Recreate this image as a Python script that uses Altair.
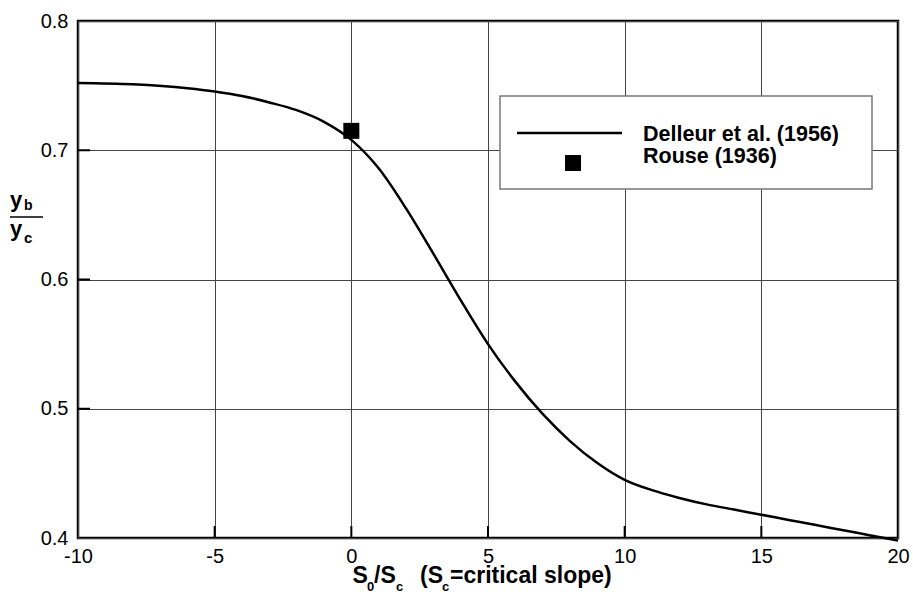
import altair as alt
import pandas as pd

# Delleur et al. (1956) curve
curve_x = [-10, -8, -6, -5, -4, -3, -2, -1, 0, 1, 2, 3, 4, 5, 6, 7, 8, 9, 10,
           11, 12, 13, 14, 15, 16, 17, 18, 19, 20]
curve_y = [0.752, 0.751, 0.748, 0.7455, 0.742, 0.737, 0.731, 0.722, 0.708, 0.686,
           0.655, 0.620, 0.584, 0.550, 0.521, 0.496, 0.475, 0.458, 0.445,
           0.437, 0.431, 0.426, 0.422, 0.418, 0.414, 0.410, 0.406, 0.402, 0.398]
# Rouse (1936) point
rouse_x = [0]
rouse_y = [0.715]

x_ticks = [-10, -5, 0, 5, 10, 15, 20]
y_ticks = [0.4, 0.5, 0.6, 0.7, 0.8]
x_inner_ticks = [-5, 0, 5, 10, 15]
y_inner_ticks = [0.5, 0.6, 0.7]
legend_labels = ["Delleur et al. (1956)", "Rouse (1936)"]

W, H = 820, 517
FONT = "Liberation Sans"

curve_df = pd.DataFrame({"x": curve_x, "y": curve_y})
rouse_df = pd.DataFrame({"x": rouse_x, "y": rouse_y})
xt_df = pd.DataFrame({"x": x_inner_ticks})
yt_df = pd.DataFrame({"y": y_inner_ticks})
one = pd.DataFrame({"a": [0]})

xscale = alt.Scale(domain=[-10, 20], nice=False, zero=False)
yscale = alt.Scale(domain=[0.4, 0.8], nice=False, zero=False)

xaxis = alt.Axis(values=x_ticks, grid=True, gridColor="#444444", gridWidth=1, gridOpacity=1,
                 ticks=False, domain=False, labelFont=FONT, labelFontSize=20,
                 labelColor="black", labelPadding=8, labelFlush=False,
                 labelExpr="toString(datum.value)", title=None)
yaxis = alt.Axis(values=y_ticks, grid=True, gridColor="#444444", gridWidth=1, gridOpacity=1,
                 ticks=False, domain=False, labelFont=FONT, labelFontSize=20,
                 labelColor="black", labelPadding=10, format=".1f", title=None)

line = alt.Chart(curve_df).mark_line(color="black", strokeWidth=2.5, interpolate="monotone").encode(
    x=alt.X("x:Q", scale=xscale, axis=xaxis),
    y=alt.Y("y:Q", scale=yscale, axis=yaxis),
)

pts = alt.Chart(rouse_df).mark_point(shape="square", filled=True, size=256, color="black", opacity=1).encode(
    x=alt.X("x:Q", scale=xscale),
    y=alt.Y("y:Q", scale=yscale),
)

xt = alt.Chart(xt_df).mark_rule(color="black", strokeWidth=2).encode(
    x=alt.X("x:Q", scale=xscale), y=alt.value(H - 12), y2=alt.value(H)
)
yt = alt.Chart(yt_df).mark_rule(color="black", strokeWidth=2).encode(
    y=alt.Y("y:Q", scale=yscale), x=alt.value(0), x2=alt.value(12)
)

# legend
leg_box = alt.Chart(one).mark_rect(fill="white", stroke="#777777", strokeWidth=1.5).encode(
    x=alt.value(422), x2=alt.value(794), y=alt.value(75), y2=alt.value(168)
)
leg_line = alt.Chart(one).mark_rule(color="black", strokeWidth=2.5).encode(
    x=alt.value(439), x2=alt.value(544), y=alt.value(112)
)
leg_sq = alt.Chart(one).mark_point(shape="square", filled=True, size=256, color="black", opacity=1).encode(
    x=alt.value(495), y=alt.value(142)
)
leg_t1 = alt.Chart(one).mark_text(align="left", baseline="alphabetic", font=FONT, fontWeight="bold",
                                  fontSize=21.5, color="black", text=legend_labels[0]).encode(
    x=alt.value(565), y=alt.value(120)
)
leg_t2 = alt.Chart(one).mark_text(align="left", baseline="alphabetic", font=FONT, fontWeight="bold",
                                  fontSize=21.5, color="black", text=legend_labels[1]).encode(
    x=alt.value(565), y=alt.value(142)
)


def txt(s, x, y, size, weight="bold"):
    return alt.Chart(one).mark_text(align="left", baseline="alphabetic", font=FONT, fontWeight=weight,
                                    fontSize=size, color="black", text=s).encode(
        x=alt.value(x), y=alt.value(y)
    )


# x-axis title: S0/Sc (Sc=critical slope)
xtitle = [
    txt("S", 274.5, 562, 23),
    txt("0", 289, 570, 13),
    txt("/S", 296, 562, 23),
    txt("c", 318, 570, 13),
    txt("(S", 342, 562, 23),
    txt("c", 364, 570, 13),
    txt("=critical slope)", 372, 562, 23),
]

# y-axis title: yb / yc
ytitle = [
    txt("y", -68, 186, 22),
    txt("b", -54, 189, 14),
    alt.Chart(one).mark_rule(color="black", strokeWidth=1.5).encode(
        x=alt.value(-68), x2=alt.value(-35), y=alt.value(196)
    ),
    txt("y", -68, 215, 22),
    txt("c", -54, 222, 15),
]

chart = alt.layer(
    line, pts, xt, yt, leg_box, leg_line, leg_sq, leg_t1, leg_t2, *xtitle, *ytitle
).properties(
    width=W, height=H,
    autosize=alt.AutoSizeParams(type="none"),
    padding={"left": 78, "top": 21, "right": 15, "bottom": 56},
    background="white",
).configure_view(
    stroke="black", strokeWidth=2.5
)

chart.save("out.html", embed_options={"renderer": "svg", "actions": False})
